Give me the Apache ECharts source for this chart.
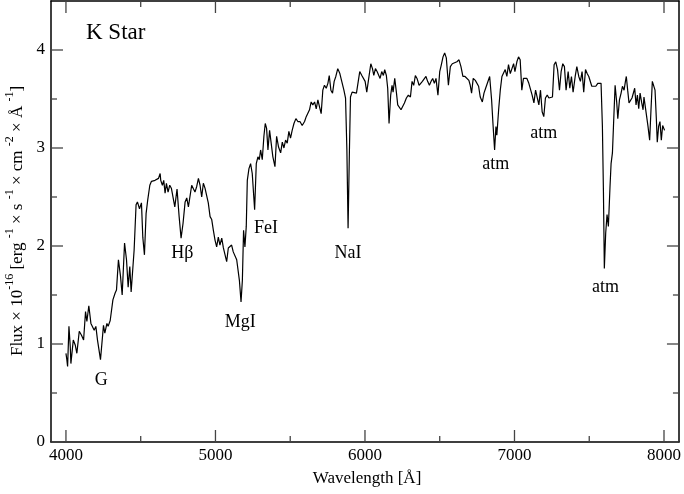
<!DOCTYPE html>
<html><head><meta charset="utf-8">
<script src="https://cdn.jsdelivr.net/npm/echarts@6/dist/echarts.min.js"></script>
<style>html,body{margin:0;padding:0;background:#fff}#c{width:684px;height:494px}</style>
</head><body><div id="c"></div>
<script>
// Wavelength (Å) and flux (×1e-16)
const wavelength = [4000,4006,4011,4020,4029,4033,4049,4062,4073,4089,4104,4118,4131,4140,4153,4167,4180,4189,4200,4211,4231,4251,4260,4274,4282,4296,4305,4314,4329,4338,4351,4365,4376,4392,4405,4416,4427,4436,4447,4456,4469,4478,4492,4505,4514,4525,4536,4547,4561,4572,4585,4596,4607,4619,4630,4634,4645,4654,4663,4672,4683,4694,4705,4717,4728,4743,4757,4770,4783,4797,4808,4819,4830,4841,4852,4863,4875,4886,4897,4908,4919,4930,4941,4952,4964,4975,4986,4997,5008,5019,5030,5042,5053,5064,5075,5086,5097,5108,5119,5131,5142,5153,5160,5171,5180,5188,5197,5206,5213,5224,5235,5246,5262,5273,5284,5293,5302,5313,5324,5333,5342,5351,5362,5373,5384,5398,5409,5422,5436,5447,5458,5469,5480,5491,5502,5513,5525,5538,5551,5565,5580,5596,5607,5618,5629,5640,5651,5663,5674,5685,5696,5707,5718,5729,5741,5752,5761,5772,5783,5794,5805,5818,5832,5843,5859,5870,5879,5887,5896,5903,5914,5925,5943,5965,5979,5992,6001,6012,6025,6039,6050,6059,6070,6081,6092,6101,6112,6123,6132,6143,6152,6161,6172,6181,6188,6199,6210,6219,6230,6241,6253,6264,6277,6290,6304,6315,6326,6337,6348,6362,6370,6384,6397,6408,6419,6431,6442,6453,6464,6475,6488,6500,6511,6522,6533,6544,6558,6571,6584,6597,6615,6629,6642,6655,6669,6682,6695,6704,6713,6724,6738,6749,6760,6771,6785,6796,6807,6820,6834,6847,6856,6867,6876,6882,6894,6905,6916,6927,6938,6949,6960,6972,6983,6994,7003,7016,7027,7038,7049,7060,7071,7083,7096,7107,7118,7130,7141,7152,7163,7174,7185,7196,7207,7219,7230,7243,7254,7265,7276,7288,7301,7312,7323,7334,7345,7359,7370,7381,7392,7406,7417,7430,7441,7452,7463,7475,7486,7497,7505,7517,7530,7544,7557,7570,7579,7588,7595,7601,7610,7619,7628,7639,7646,7655,7662,7673,7684,7691,7702,7713,7722,7733,7742,7748,7757,7766,7775,7786,7795,7804,7813,7822,7831,7840,7851,7860,7866,7875,7884,7893,7904,7913,7922,7931,7940,7949,7955,7964,7973,7982,7991,7998,8004];
const flux = [0.905,0.84,0.77,1.18,0.97,0.80,1.04,0.99,0.905,1.13,1.09,1.04,1.33,1.23,1.39,1.21,1.23,1.14,1.18,1.04,0.84,1.19,1.11,1.21,1.18,1.24,1.23,1.45,1.52,1.55,1.86,1.69,1.50,2.03,1.86,1.58,1.79,1.53,1.52,1.96,2.42,2.45,2.38,2.44,2.09,1.91,2.33,2.47,2.62,2.66,2.65,2.67,2.66,2.69,2.74,2.67,2.62,2.67,2.54,2.64,2.55,2.62,2.59,2.61,2.40,2.58,2.30,2.08,2.23,2.45,2.49,2.40,2.40,2.62,2.64,2.55,2.61,2.69,2.62,2.50,2.64,2.59,2.57,2.44,2.30,2.27,2.16,2.06,1.99,2.09,2.01,2.08,1.98,1.96,1.84,1.98,1.96,2.01,1.94,1.96,1.86,1.84,1.65,1.43,1.65,2.16,1.99,2.20,2.67,2.79,2.84,2.74,2.37,2.84,2.91,2.88,2.98,2.88,3.12,3.25,3.20,2.98,3.18,3.17,2.91,2.81,3.12,3.01,2.95,3.06,3.00,3.08,3.05,3.17,3.10,3.18,3.25,3.30,3.27,3.27,3.23,3.27,3.32,3.34,3.39,3.47,3.44,3.47,3.40,3.49,3.42,3.35,3.59,3.64,3.61,3.66,3.74,3.59,3.56,3.68,3.73,3.81,3.76,3.69,3.59,3.51,2.98,2.18,2.98,3.52,3.57,3.56,3.56,3.78,3.74,3.73,3.68,3.57,3.71,3.86,3.81,3.74,3.81,3.78,3.76,3.71,3.78,3.74,3.80,3.74,3.61,3.25,3.54,3.64,3.57,3.71,3.57,3.44,3.46,3.39,3.39,3.46,3.51,3.54,3.52,3.68,3.64,3.74,3.71,3.64,3.66,3.68,3.66,3.73,3.68,3.64,3.68,3.71,3.66,3.71,3.54,3.78,3.85,3.93,3.97,3.92,3.64,3.83,3.86,3.85,3.88,3.90,3.83,3.73,3.73,3.71,3.69,3.64,3.56,3.71,3.69,3.68,3.63,3.52,3.47,3.56,3.61,3.63,3.73,3.49,3.25,2.98,3.22,3.13,3.39,3.59,3.73,3.71,3.80,3.73,3.85,3.76,3.81,3.86,3.78,3.88,3.93,3.90,3.59,3.71,3.69,3.71,3.66,3.64,3.54,3.46,3.59,3.61,3.44,3.59,3.37,3.32,3.51,3.54,3.51,3.49,3.52,3.85,3.88,3.80,3.59,3.78,3.86,3.83,3.59,3.78,3.61,3.73,3.57,3.73,3.83,3.73,3.68,3.78,3.57,3.80,3.76,3.73,3.71,3.63,3.64,3.63,3.66,3.64,3.66,3.22,2.54,1.77,2.13,2.32,2.20,2.61,2.84,2.95,3.22,3.64,3.46,3.30,3.49,3.56,3.63,3.59,3.68,3.73,3.59,3.46,3.47,3.51,3.52,3.61,3.44,3.54,3.40,3.56,3.46,3.39,3.52,3.54,3.32,3.22,3.08,3.39,3.68,3.69,3.59,3.29,3.06,3.22,3.27,3.08,3.23,3.25,3.18];

// Line identifications
const lineNames = ['G','Hβ','MgI','FeI','NaI','atm','atm','atm'];
const lineWave  = [4236,4778,5165,5338,5886,6874,7195,7609];
const lineFlux  = [0.63,1.93,1.22,2.18,1.93,2.83,3.15,1.58];

// Axis ticks
const xMajor = [4000,5000,6000,7000,8000];
const xMinor = [4500,5500,6500,7500];
const yMajor = [0,1,2,3,4];
const yMinor = [0.5,1.5,2.5,3.5];

const FONT = '"Liberation Serif","DejaVu Serif",serif';
const chart = echarts.init(document.getElementById('c'), null, {renderer:'canvas'});

const axLine = {show:true, onZero:false, lineStyle:{color:'#000', width:1.5}};
const lbl = (arr, m) => ({show:true, margin:m, color:'#000', fontFamily:FONT, fontSize:17,
  formatter: v => arr.indexOf(Math.round(v*1000)/1000) >= 0 ? String(v) : ''});

// tick data: [x, y, kind] kind 0 xMajor, 1 xMinor, 2 yMajor, 3 yMinor
const tickData = [].concat(
  xMajor.map(v=>[v,0,0]), xMinor.map(v=>[v,0,1]),
  yMajor.map(v=>[4000,v,2]), yMinor.map(v=>[4000,v,3]));

const option = {
  animation:false,
  backgroundColor:'#fff',
  grid:{left:51, right:3, top:1, bottom:52, containLabel:false},
  xAxis:[
    {type:'value', min:3900, max:8100, position:'bottom', axisLine:axLine, axisTick:{show:false},
     axisLabel:lbl(xMajor,5), splitLine:{show:false}},
    {type:'value', min:3900, max:8100, position:'top', axisLine:axLine, axisTick:{show:false},
     axisLabel:{show:false}, splitLine:{show:false}}
  ],
  yAxis:[
    {type:'value', min:0, max:4.5, interval:1, position:'left', axisLine:axLine, axisTick:{show:false},
     axisLabel:lbl(yMajor,6), splitLine:{show:false}},
    {type:'value', min:0, max:4.5, interval:1, position:'right', axisLine:axLine, axisTick:{show:false},
     axisLabel:{show:false}, splitLine:{show:false}}
  ],
  series:[
    {type:'custom', xAxisIndex:0, yAxisIndex:0, silent:true, clip:false, z:1,
     data: tickData,
     renderItem: function(params, api){
       const cs = params.coordSys;
       const k = api.value(2);
       const len = (k % 2 === 0) ? 12 : 6;
       const st = {stroke:'#444', lineWidth:1.3};
       let a, b;
       if (k < 2) {
         const px = api.coord([api.value(0), 0])[0];
         a = {x1:px, y1:cs.y+cs.height, x2:px, y2:cs.y+cs.height-len};
         b = {x1:px, y1:cs.y, x2:px, y2:cs.y+len};
       } else {
         const py = api.coord([4000, api.value(1)])[1];
         a = {x1:cs.x, y1:py, x2:cs.x+len, y2:py};
         b = {x1:cs.x+cs.width, y1:py, x2:cs.x+cs.width-len, y2:py};
       }
       return {type:'group', children:[
         {type:'line', shape:a, style:st}, {type:'line', shape:b, style:st}]};
     }},
    {type:'line', xAxisIndex:0, yAxisIndex:0, showSymbol:false, symbol:'none', z:3,
     data: wavelength.map((w,i)=>[w, flux[i]]),
     lineStyle:{color:'#000', width:1.2}},
    {type:'scatter', xAxisIndex:0, yAxisIndex:0, symbolSize:0, z:4, silent:true,
     itemStyle:{color:'#000', opacity:1},
     data: lineNames.map((n,i)=>[lineWave[i], lineFlux[i], n]),
     label:{show:true, position:'inside', formatter:p=>p.data[2], opacity:1,
            color:'#000', textBorderWidth:0, fontFamily:FONT, fontSize:18}}
  ],
  graphic:[
    {type:'text', x:86, y:33, style:{text:'K Star', font:'23px '+FONT, fill:'#000', align:'left', verticalAlign:'middle'}},
    {type:'text', x:367, y:479, style:{text:'Wavelength [Å]', font:'17px '+FONT, fill:'#000', align:'center', verticalAlign:'middle'}},
    {type:'text', x:15, y:221, rotation:Math.PI/2,
     style:{text:'{n|Flux × 10}{s|-16}{n| [erg }{s|-1}{n| × s }{s|-1}{n| × cm }{s|-2}{n| × Å }{s|-1}{n|]}',
            align:'center', verticalAlign:'middle', fill:'#000',
            rich:{n:{fontFamily:FONT, fontSize:17, lineHeight:22, verticalAlign:'bottom', fill:'#000'},
                  s:{fontFamily:FONT, fontSize:12, lineHeight:22, verticalAlign:'top', fill:'#000'}}}}
  ]
};
chart.setOption(option);
</script></body></html>
